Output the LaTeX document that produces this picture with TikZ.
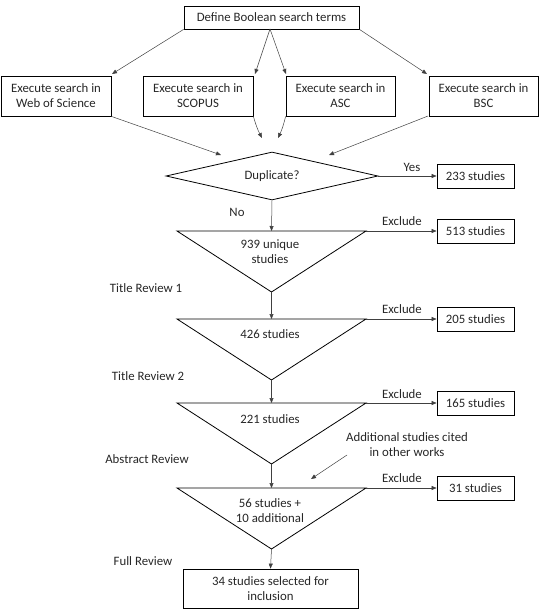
\documentclass[tikz,border=0pt]{standalone}
\usepackage{fontspec}
\setmainfont{Carlito}
\usetikzlibrary{arrows.meta,shapes.geometric}
\begin{document}
\begin{tikzpicture}[x=1pt,y=-1pt,
  every node/.style={font=\fontsize{12.8}{15}\selectfont, text=black!85},
  box/.style={draw=black, line width=0.8pt, inner sep=0pt, align=center},
  srch/.style={box, minimum width=110pt, minimum height=40pt},
  excl/.style={box, minimum width=77pt, minimum height=24pt},
  tri/.style={draw=black, line width=0.8pt, line join=miter},
  conn/.style={draw=black!75, line width=0.5pt, -{Triangle[length=5pt,width=4pt]}},
  lab/.style={inner sep=0pt}
]
\useasboundingbox (0,0) rectangle (543,615);

% top and search boxes
\node[box, minimum width=175pt, minimum height=23pt] (top) at (271.5,17.5) {Define Boolean search terms};
\node[srch] (wos) at (56,96) {Execute search in\\Web of Science};
\node[srch] (scopus) at (198,96) {Execute search in\\SCOPUS};
\node[srch, minimum width=109pt] (asc) at (340.5,96) {Execute search in\\ASC};
\node[srch, minimum width=109pt] (bsc) at (483.5,96) {Execute search in\\BSC};

% diamond
\node[draw=black, line width=0.8pt, shape=diamond, shape aspect=4.4, minimum width=212pt, minimum height=48pt, inner sep=0pt] (dup) at (272,176) {Duplicate?};

% arrow end points
\coordinate (tb) at (270,29);
\coordinate (wosin) at (112,74);
\coordinate (scin) at (255,74);
\coordinate (ascin) at (286,74);
\coordinate (bscin) at (427,74);
\coordinate (wosout) at (221,155);
\coordinate (scout) at (262,138);
\coordinate (ascout) at (278,138);
\coordinate (bscout) at (329,155);
\coordinate (bscb) at (428,116);

\draw[conn] (top.south west) -- (wosin);
\draw[conn] (tb) -- (scin);
\draw[conn] (tb) -- (ascin);
\draw[conn] (top.south east) -- (bscin);
\draw[conn] (wos.south east) -- (wosout);
\draw[conn] (scopus.south east) to[bend right=6] (scout);
\draw[conn] (asc.south west) to[bend left=6] (ascout);
\draw[conn] (bscb) -- (bscout);

% triangles
\foreach \n/\y/\a in {1/231/292, 2/319/380, 3/403/464, 4/488/549}{
  \coordinate (t\n l) at (177,\y);
  \coordinate (t\n r) at (366,\y);
  \coordinate (t\n a) at (271.5,\a);
  \coordinate (t\n t) at (271.5,\y);
  \draw[tri] (t\n l) -- (t\n r) -- (t\n a) -- cycle;
}
\node[lab, align=center] (n1) at (270,251.5) {939 unique\\studies};
\node[lab] (n2) at (270,334) {426 studies};
\node[lab] (n3) at (270,419) {221 studies};
\node[lab, align=center] (n4) at (270,510.5) {56 studies +\\10 additional};

% final
\node[box, minimum width=175pt, minimum height=39pt] (fin) at (270.5,588.5) {34 studies selected for\\inclusion};

% exclusion boxes
\node[excl] (b233) at (475.5,176) {233 studies};
\node[excl] (b513) at (475.5,231) {513 studies};
\node[excl] (b205) at (475.5,319) {205 studies};
\node[excl] (b165) at (475.5,403) {165 studies};
\node[excl] (b31) at (475.5,488) {31 studies};

% vertical flow
\draw[conn] (dup.south) -- (t1t);
\draw[conn] (t1a) -- (t2t);
\draw[conn] (t2a) -- (t3t);
\draw[conn] (t3a) -- (t4t);
\draw[conn] (t4a) -- (fin.north);

% horizontal
\draw[conn] (dup.east) -- (b233.west);
\draw[conn] (t1r) -- (b513.west);
\draw[conn] (t2r) -- (b205.west);
\draw[conn] (t3r) -- (b165.west);
\draw[conn] (t4r) -- (b31.west);

% labels
\node[lab] (yes) at (412,167) {Yes};
\node[lab] (no) at (237,212) {No};
\node[lab] (e1) at (402,221) {Exclude};
\node[lab] (e2) at (402,309) {Exclude};
\node[lab] (e3) at (402,394) {Exclude};
\node[lab] (e4) at (402,478) {Exclude};

\node[lab] (r1) at (146,288) {Title Review 1};
\node[lab] (r2) at (148,376) {Title Review 2};
\node[lab] (r3) at (147,459) {Abstract Review};
\node[lab] (r4) at (143,561) {Full Review};

\node[lab, align=center] (add) at (407,444.5) {Additional studies cited\\in other works};
\coordinate (adds) at (347,455);
\coordinate (adde) at (311,479);
\draw[conn] (adds) -- (adde);
\end{tikzpicture}
\end{document}
